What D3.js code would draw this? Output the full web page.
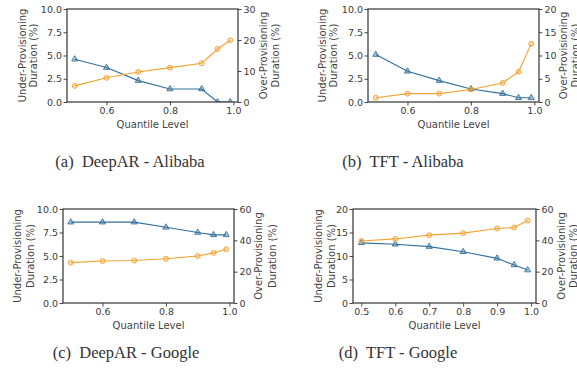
<!DOCTYPE html>
<html>
<head>
<meta charset="utf-8">
<script src="https://cdn.jsdelivr.net/npm/d3@7"></script>
<style>
  body { margin: 0; background: #fff; }
  svg { display: block; }
  .tick text { font-family: "DejaVu Sans", sans-serif; font-size: 9.5px; fill: #3a3a3a; }
  .tick line { stroke: #333; stroke-width: 0.9; }
  .domain { display: none; }
</style>
</head>
<body>
<div id="chart"></div>
<script>
// quantile levels shared by every panel
const quantiles = [0.5, 0.6, 0.7, 0.8, 0.9, 0.95, 0.99];

// (a) DeepAR - Alibaba
const deeparAlibabaUnder = [4.6, 3.7, 2.3, 1.4, 1.4, 0, 0];
const deeparAlibabaOver = [5.2, 7.8, 9.7, 11.1, 12.5, 17.1, 19.9];
// (b) TFT - Alibaba
const tftAlibabaUnder = [5.1, 3.3, 2.3, 1.4, 0.9, 0.45, 0.45];
const tftAlibabaOver = [0.9, 1.8, 1.8, 2.7, 4.1, 6.5, 12.5];
// (c) DeepAR - Google
const deeparGoogleUnder = [8.6, 8.6, 8.6, 8.05, 7.5, 7.25, 7.25];
const deeparGoogleOver = [25.8, 26.8, 27.1, 28.2, 30.0, 32.0, 34.3];
// (d) TFT - Google
const tftGoogleUnder = [12.8, 12.5, 12.0, 10.9, 9.5, 8.1, 7.0];
const tftGoogleOver = [39.6, 40.9, 43.3, 44.6, 47.6, 48.2, 52.6];

const xTicksSparse = [0.6, 0.8, 1.0];
const xTicksDense = [0.5, 0.6, 0.7, 0.8, 0.9, 1.0];
const leftTicks10 = [0, 2.5, 5, 7.5, 10];
const leftTicks20 = [0, 5, 10, 15, 20];
const rightTicks30 = [0, 10, 20, 30];
const rightTicks20 = [0, 5, 10, 15, 20];
const rightTicks60 = [0, 20, 40, 60];

const captions = ["(a)  DeepAR - Alibaba", "(b)  TFT - Alibaba", "(c)  DeepAR - Google", "(d)  TFT - Google"];

const blue = "#31709c";
const orange = "#f2a330";

const svg = d3.select("#chart").append("svg")
    .attr("width", 577)
    .attr("height", 375);

const panels = [
    {box: {l: 67, r: 238, t: 9, b: 102}, under: deeparAlibabaUnder, over: deeparAlibabaOver,
     yl: [0, 10], ylTicks: leftTicks10, ylFmt: d3.format(".1f"), yr: [0, 30], yrTicks: rightTicks30,
     xTicks: xTicksSparse, lab: [45, 34], rlab: [25, 37], cap: [130, 162]},
    {box: {l: 368, r: 539, t: 9, b: 102}, under: tftAlibabaUnder, over: tftAlibabaOver,
     yl: [0, 10], ylTicks: leftTicks10, ylFmt: d3.format(".1f"), yr: [0, 20], yrTicks: rightTicks20,
     xTicks: xTicksSparse, lab: [46, 35], rlab: [24, 36], cap: [403, 162]},
    {box: {l: 63, r: 234, t: 209, b: 303}, under: deeparGoogleUnder, over: deeparGoogleOver,
     yl: [0, 10], ylTicks: leftTicks10, ylFmt: d3.format(".1f"), yr: [0, 60], yrTicks: rightTicks60,
     xTicks: xTicksSparse, lab: [46, 33], rlab: [24, 38], cap: [126, 353]},
    {box: {l: 353, r: 536, t: 209, b: 303}, under: tftGoogleUnder, over: tftGoogleOver,
     yl: [0, 20], ylTicks: leftTicks20, ylFmt: d3.format("d"), yr: [0, 60], yrTicks: rightTicks60,
     xTicks: xTicksDense, lab: [35, 22], rlab: [25, 37], cap: [398, 353]}
];

panels.forEach((p, i) => {
    const b = p.box;
    const g = svg.append("g");

    // matplotlib style 5% margin on x
    const pad = (0.99 - 0.5) * 0.05;
    const x = d3.scaleLinear().domain([0.5 - pad, 0.99 + pad]).range([b.l, b.r]);
    const yL = d3.scaleLinear().domain(p.yl).range([b.b, b.t]);
    const yR = d3.scaleLinear().domain(p.yr).range([b.b, b.t]);

    g.append("clipPath").attr("id", "clip" + i)
        .append("rect").attr("x", b.l).attr("y", b.t)
        .attr("width", b.r - b.l).attr("height", b.b - b.t);

    // axes
    g.append("g").attr("transform", `translate(0,${b.b})`)
        .call(d3.axisBottom(x).tickValues(p.xTicks).tickFormat(d3.format(".1f")).tickSize(3.5).tickPadding(2));
    g.append("g").attr("transform", `translate(${b.l},0)`)
        .call(d3.axisLeft(yL).tickValues(p.ylTicks).tickFormat(p.ylFmt).tickSize(3.5).tickPadding(1.5));
    g.append("g").attr("transform", `translate(${b.r},0)`)
        .call(d3.axisRight(yR).tickValues(p.yrTicks).tickFormat(d3.format("d")).tickSize(3.5).tickPadding(2));

    const plot = g.append("g").attr("clip-path", `url(#clip${i})`);

    const lineL = d3.line().x((d, j) => x(quantiles[j])).y(d => yL(d));
    const lineR = d3.line().x((d, j) => x(quantiles[j])).y(d => yR(d));

    plot.append("path").datum(p.under)
        .attr("d", lineL).attr("fill", "none").attr("stroke", blue).attr("stroke-width", 1.1);
    plot.selectAll(".tri").data(p.under).join("path")
        .attr("transform", (d, j) => `translate(${x(quantiles[j])},${yL(d)})`)
        .attr("d", d3.symbol(d3.symbolTriangle, 16))
        .attr("fill", blue).attr("fill-opacity", 0.35)
        .attr("stroke", blue).attr("stroke-width", 0.9);

    plot.append("path").datum(p.over)
        .attr("d", lineR).attr("fill", "none").attr("stroke", orange).attr("stroke-width", 1.1);
    plot.selectAll(".circ").data(p.over).join("circle")
        .attr("cx", (d, j) => x(quantiles[j])).attr("cy", d => yR(d)).attr("r", 2.5)
        .attr("fill", orange).attr("fill-opacity", 0.3)
        .attr("stroke", orange).attr("stroke-width", 0.9);

    // frame
    g.append("rect").attr("x", b.l).attr("y", b.t)
        .attr("width", b.r - b.l).attr("height", b.b - b.t)
        .attr("fill", "none").attr("stroke", "#333").attr("stroke-width", 1.2);

    const labStyle = sel => sel.attr("font-family", "DejaVu Sans, sans-serif")
        .attr("font-size", 10).attr("fill", "#444").attr("text-anchor", "middle").attr("dy", "0.35em");
    const cy = (b.t + b.b) / 2;

    // left label
    [["Under-Provisioning", p.lab[0]], ["Duration (%)", p.lab[1]]].forEach(([t, off]) => {
        g.append("text").call(labStyle)
            .attr("transform", `translate(${b.l - off},${cy}) rotate(-90)`).text(t);
    });
    // right label
    [["Over-Provisioning", p.rlab[0]], ["Duration (%)", p.rlab[1]]].forEach(([t, off]) => {
        g.append("text").call(labStyle)
            .attr("transform", `translate(${b.r + off},${cy}) rotate(-90)`).text(t);
    });

    g.append("text").call(labStyle).attr("dy", null)
        .attr("x", (b.l + b.r) / 2).attr("y", b.b + 25.5).text("Quantile Level");

    g.append("text")
        .attr("x", p.cap[0]).attr("y", p.cap[1] + 5)
        .attr("text-anchor", "middle")
        .attr("font-family", "Liberation Serif, serif")
        .attr("font-size", 16.5)
        .attr("fill", "#333")
        .attr("xml:space", "preserve")
        .style("white-space", "pre")
        .text(captions[i]);
});
</script>
</body>
</html>
